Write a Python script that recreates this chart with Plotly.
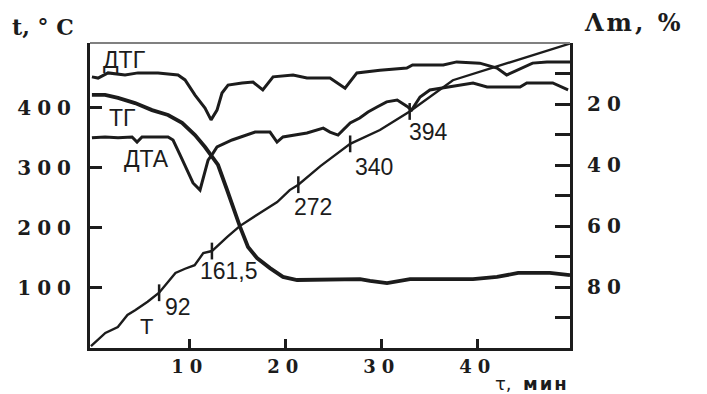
import plotly.graph_objects as go

# ---- data ----
time_T = [-0.3, 1.2, 2.5, 3.5, 4.3, 5.6, 6.8, 8.5, 9.5, 10.5, 11.4, 12.3, 13.9, 15.2,
          17.3, 19.1, 20.4, 21.3, 23.6, 26.7, 29.8, 32.9, 37.4, 42.3, 49.6]
temp_T = [3, 25, 35, 55, 63, 77, 92, 125, 132, 138, 158, 161.5, 185, 203,
          225, 243, 263, 272, 303, 340, 363, 394, 446, 471, 507]

mark_time = [6.8, 12.3, 21.3, 26.7, 32.9]
mark_temp = [92, 161.5, 272, 340, 394]
mark_text = ["92", "161,5", "272", "340", "394"]

time_TG = [-0.2, 1.17, 2.52, 4.29, 6.06, 7.73, 9.19, 10.54, 11.58, 12.21, 12.94, 13.88,
           14.71, 15.23, 16.06, 17.0, 18.35, 19.7, 21.17, 23.25, 27.73, 28.77, 30.54,
           32.94, 39.5, 42.0, 44.2, 47.5, 49.6]
mass_TG = [17.0, 17.0, 18.0, 19.7, 22.0, 23.6, 26.2, 30.2, 34.1, 36.7, 40.0, 48.2,
           55.7, 60.3, 66.9, 70.5, 73.8, 76.7, 77.7, 77.7, 77.4, 78.0, 78.7,
           77.4, 77.4, 76.7, 75.4, 75.4, 76.1]

time_DTG = [-0.2, 0.44, 1.48, 3.25, 4.6, 6.69, 8.77, 9.5, 10.54, 11.58, 12.21, 12.83,
            13.35, 13.98, 15.44, 16.58, 17.6, 18.67, 20.75, 22.2, 24.6, 25.65, 26.17,
            27.4, 29.8, 32.6, 33.2, 36.4, 37.8, 40.2, 42.0, 43.0, 44.1, 45.7, 47.2, 49.6]
sig_DTG = [88.9, 88.5, 90.2, 89.5, 90.2, 90.2, 89.5, 87.9, 82.9, 78.7, 74.8, 78.0,
           83.6, 86.2, 86.9, 87.2, 84.6, 88.9, 89.5, 88.5, 88.5, 86.2, 85.2,
           90.2, 91.1, 91.8, 92.8, 92.8, 93.8, 93.4, 91.8, 89.5, 91.1, 93.4, 93.8, 93.8]

time_DTA = [-0.2, 1.17, 2.52, 3.98, 4.5, 5.02, 7.73, 8.25, 8.98, 9.71, 10.33, 11.06,
            11.4, 11.9, 12.42, 12.83, 14.4, 15.75, 16.8, 18.35, 19.08, 19.7, 22.2,
            23.9, 24.6, 25.44, 26.7, 27.7, 28.56, 29.5, 30.5, 31.6, 32.6, 33.1, 33.98,
            35.0, 37.1, 39.5, 40.96, 44.4, 45.1, 47.8, 49.4]
sig_DTA = [68.9, 69.2, 68.9, 69.2, 67.5, 69.2, 69.2, 68.2, 63.3, 58.4, 54.1, 51.8,
           56.1, 61.6, 63.9, 65.9, 68.2, 69.8, 70.8, 70.8, 67.5, 69.2, 70.5,
           72.1, 70.8, 69.8, 73.8, 75.4, 77.4, 79.0, 80.7, 81.3, 79.3, 78.0, 82.3,
           84.6, 85.6, 86.9, 85.6, 85.6, 86.9, 86.9, 84.6]

x_ticks = [10, 20, 30, 40]
t_ticks = [100, 200, 300, 400]
m_ticks = [10, 20, 30, 40, 50, 60, 70, 80, 90]
m_labels = ["", "20", "", "40", "", "60", "", "80", ""]

# ---- styles ----
INK = "#1c1c1c"
SERIF = "DejaVu Serif"
SANS = "Liberation Sans"
TICKFONT = dict(family=SERIF, size=20, color=INK, weight="bold")
XTICKFONT = dict(family=SERIF, size=18, color=INK, weight="bold")


def spaced(s, sp=6):
    return f'<span style="letter-spacing:{sp}px">{s}</span>' if s else s


fig = go.Figure()

fig.add_trace(go.Scatter(x=time_DTG, y=sig_DTG, mode="lines", yaxis="y3",
                         line=dict(color=INK, width=3), showlegend=False))
fig.add_trace(go.Scatter(x=time_DTA, y=sig_DTA, mode="lines", yaxis="y3",
                         line=dict(color=INK, width=3), showlegend=False))
fig.add_trace(go.Scatter(x=time_TG, y=mass_TG, mode="lines", yaxis="y2",
                         line=dict(color=INK, width=3.8), showlegend=False))
fig.add_trace(go.Scatter(x=time_T, y=temp_T, mode="lines", yaxis="y",
                         line=dict(color=INK, width=2.4), showlegend=False))
fig.add_trace(go.Scatter(x=mark_time, y=mark_temp, mode="markers", yaxis="y",
                         marker=dict(symbol="line-ns", size=12,
                                     line=dict(color=INK, width=2.5)),
                         showlegend=False))

label_shift = [(19, -14), (17, -20), (15, -22), (24, -23), (19, -21)]
annotations = []
for xv, yv, txt, (dx, dy) in zip(mark_time, mark_temp, mark_text, label_shift):
    annotations.append(dict(x=xv, y=yv, xref="x", yref="y", text=txt, showarrow=False,
                            xshift=dx, yshift=dy,
                            font=dict(family=SANS, size=23, color=INK)))

curve_labels = [("ДТГ", 3.15, 94.4), ("ТГ", 2.94, 75.4), ("ДТА", 5.44, 62.0)]
for txt, xv, yv in curve_labels:
    annotations.append(dict(x=xv, y=yv, xref="x", yref="y3", text=txt, showarrow=False,
                            font=dict(family=SANS, size=23, color=INK)))
annotations.append(dict(x=5.44, y=35, xref="x", yref="y", text="Т", showarrow=False,
                        font=dict(family=SANS, size=22, color=INK)))

annotations.append(dict(x=-0.165, y=1.008, xref="paper", yref="paper", text="t, ° C",
                        xanchor="left", yanchor="bottom", showarrow=False, borderpad=0,
                        font=dict(family=SERIF, size=22, color=INK, weight="bold")))
annotations.append(dict(x=1.027, y=1.015, xref="paper", yref="paper",
                        text='<span style="letter-spacing:3px">Λm, %</span>',
                        xanchor="left", yanchor="bottom", showarrow=False, borderpad=0,
                        font=dict(family=SERIF, size=24, color=INK, weight="bold")))
annotations.append(dict(x=1.0, y=-0.155, xref="paper", yref="paper",
                        text='τ,  <b><span style="letter-spacing:2px">мин</span></b>',
                        xanchor="right", yanchor="bottom",
                        showarrow=False, borderpad=0,
                        font=dict(family="DejaVu Sans", size=18, color=INK)))

fig.update_layout(
    width=707, height=394,
    margin=dict(l=90, r=137, t=43, b=46),
    paper_bgcolor="white", plot_bgcolor="white",
    xaxis=dict(range=[-0.4, 49.6], tickvals=x_ticks,
               ticktext=[spaced(str(v)) for v in x_ticks],
               ticks="inside", ticklen=9, tickwidth=2.5, tickcolor=INK,
               showline=True, linewidth=3, linecolor=INK, showgrid=False,
               zeroline=False, tickfont=XTICKFONT),
    yaxis=dict(range=[0, 508], tickvals=t_ticks,
               ticktext=[spaced(str(v)) for v in t_ticks],
               ticks="inside", ticklen=12, tickwidth=2.5, tickcolor=INK,
               showline=True, linewidth=3, linecolor=INK, showgrid=False,
               zeroline=False, ticklabelstandoff=6, tickfont=TICKFONT),
    yaxis2=dict(range=[100, 0], overlaying="y", side="right", tickvals=m_ticks,
                ticktext=[spaced(s) for s in m_labels],
                ticks="inside", ticklen=15, tickwidth=2.5, tickcolor=INK,
                showline=True, linewidth=3, linecolor=INK, showgrid=False,
                zeroline=False, ticklabelstandoff=10, tickfont=TICKFONT),
    yaxis3=dict(range=[0, 100], overlaying="y", visible=False),
    shapes=[dict(type="line", xref="paper", yref="paper", x0=0, x1=1, y0=1, y1=1,
                 line=dict(color="#808080", width=2))],
    annotations=annotations,
)

fig.write_html("out.html")
